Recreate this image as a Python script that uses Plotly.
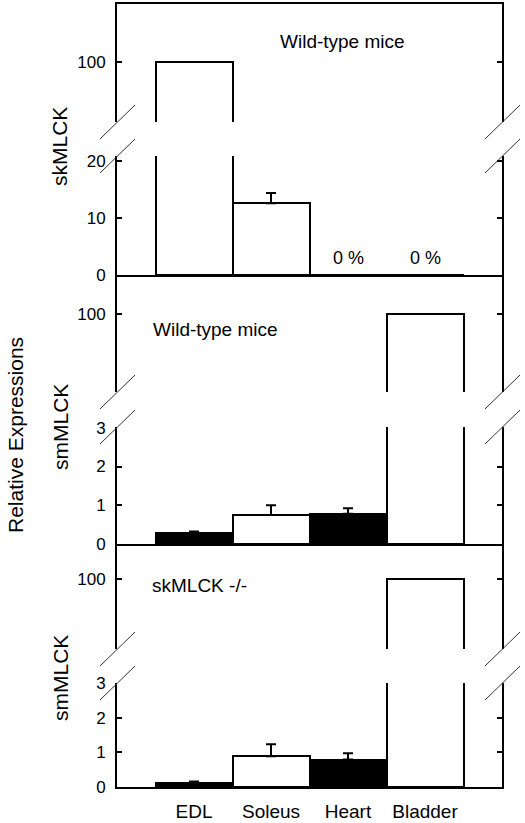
import plotly.graph_objects as go

# ---------------- data ----------------
categories = ["EDL", "Soleus", "Heart", "Bladder"]

sk_wt_values = [100, 12.6, 0, 0]
sk_wt_err = [None, 1.8, None, None]
sk_wt_colors = ["white", "white", "white", "white"]

sm_wt_values = [0.28, 0.75, 0.78, 100]
sm_wt_err = [0.04, 0.25, 0.14, None]

sm_ko_values = [0.12, 0.89, 0.79, 100]
sm_ko_err = [0.04, 0.34, 0.18, None]
sm_colors = ["black", "white", "black", "white"]

panel_titles = ["skMLCK", "smMLCK", "smMLCK"]
panel_notes = ["Wild-type mice", "Wild-type mice", "skMLCK -/-"]
zero_labels = ["0 %", "0 %"]

# ---------------- geometry (pixels) ----------------
W, H = 525, 823
XL, XR = 117, 502
FONT = "Liberation Sans, Arial, sans-serif"


def fx(px):
    return px / W


def fy(py):
    return 1 - py / H


panels = [
    dict(lo=(275, 156), up=(122, 4), lo_rng=[0, 20.88], up_rng=[70, 129],
         lo_ticks=[0, 10, 20], values=sk_wt_values, err=sk_wt_err, colors=sk_wt_colors),
    dict(lo=(544, 427), up=(392, 275), lo_rng=[0, 3.02], up_rng=[61, 119.5],
         lo_ticks=[0, 1, 2, 3], values=sm_wt_values, err=sm_wt_err, colors=sm_colors),
    dict(lo=(787, 683), up=(649, 545), lo_rng=[0, 3.0], up_rng=[65, 117],
         lo_ticks=[0, 1, 2, 3], values=sm_ko_values, err=sm_ko_err, colors=sm_colors),
]

fig = go.Figure()
layout = dict(
    template="none",
    width=W, height=H, margin=dict(l=0, r=0, t=0, b=0, autoexpand=False),
    paper_bgcolor="white", plot_bgcolor="rgba(0,0,0,0)",
    showlegend=False, bargap=0,
    font=dict(family=FONT, color="black"),
)

ycommon = dict(showline=True, linecolor="black", linewidth=2, mirror="ticks",
               ticks="inside", ticklen=5, tickwidth=2, tickcolor="black",
               showgrid=False, zeroline=False, automargin=False,
               tickfont=dict(size=17, family=FONT, color="black"),
               ticklabelstandoff=6, fixedrange=True)

xcommon = dict(type="category", categoryorder="array", categoryarray=categories,
               range=[-1, 4], domain=[fx(XL), fx(XR)], showline=True,
               linecolor="black", linewidth=2, showgrid=False, zeroline=False,
               ticks="", fixedrange=True, automargin=False)

shapes = []
annotations = []

for i, p in enumerate(panels):
    ylo = 2 * i + 1
    yup = 2 * i + 2
    xi = i + 1
    xname = "xaxis" if xi == 1 else f"xaxis{xi}"
    loname = "yaxis" if ylo == 1 else f"yaxis{ylo}"
    upname = f"yaxis{yup}"

    layout[xname] = dict(xcommon, anchor="y" if ylo == 1 else f"y{ylo}",
                         showticklabels=(i == 2),
                         tickfont=dict(size=19, family=FONT, color="black"),
                         ticklabelstandoff=6)
    layout[loname] = dict(ycommon, domain=[fy(p["lo"][0]), fy(p["lo"][1])],
                          range=p["lo_rng"], tickvals=p["lo_ticks"],
                          anchor="x" if xi == 1 else f"x{xi}")
    layout[upname] = dict(ycommon, domain=[fy(p["up"][0]), fy(p["up"][1])],
                          range=p["up_rng"], tickvals=[100],
                          anchor="x" if xi == 1 else f"x{xi}")

    xref = "x" if xi == 1 else f"x{xi}"
    err = p["err"]
    fig.add_trace(go.Bar(
        x=categories, y=p["values"], xaxis=xref,
        yaxis="y" if ylo == 1 else f"y{ylo}",
        marker=dict(color=p["colors"], line=dict(color="black", width=2)),
        error_y=dict(type="data", symmetric=False, array=err,
                     arrayminus=[0 if e is not None else None for e in err],
                     color="black", thickness=2, width=5),
        hoverinfo="skip",
    ))
    up_x = "x4" if i == 0 else xref
    fig.add_trace(go.Bar(
        x=categories, y=p["values"], xaxis=up_x, yaxis=f"y{yup}",
        marker=dict(color=p["colors"], line=dict(color="black", width=2)),
        hoverinfo="skip",
    ))

    # break marks
    for xb in (XL, XR):
        for yb in (p["up"][0], p["lo"][1]):
            shapes.append(dict(type="line", xref="paper", yref="paper",
                               x0=fx(xb - 17), y0=fy(yb + 17),
                               x1=fx(xb + 18), y1=fy(yb - 17),
                               line=dict(color="#333333", width=1)))

    annotations.append(dict(text=panel_titles[i], xref="paper", yref="paper",
                            x=fx(60), y=fy([147, 427, 678][i]),
                            textangle=-90, showarrow=False,
                            font=dict(size=21, family=FONT, color="black"),
                            xanchor="center", yanchor="middle"))

layout["xaxis4"] = dict(xcommon, anchor="y2", side="top", matches="x",
                        showticklabels=False)

annotations.append(dict(text=panel_notes[0], xref="paper", yref="paper",
                        x=fx(407), y=fy(29), showarrow=False,
                        font=dict(size=19, family=FONT, color="black")))
annotations.append(dict(text=panel_notes[1], xref="paper", yref="paper",
                        x=fx(215), y=fy(330), showarrow=False,
                        font=dict(size=19, family=FONT, color="black")))
annotations.append(dict(text=panel_notes[2], xref="paper", yref="paper",
                        x=fx(199), y=fy(598), showarrow=False,
                        font=dict(size=19, family=FONT, color="black")))
for cat, lab in zip(categories[2:], zero_labels):
    annotations.append(dict(text=lab, x=cat, y=3, xref="x", yref="y",
                            showarrow=False, yanchor="middle",
                            font=dict(size=18, family=FONT, color="black")))

annotations.append(dict(text="Relative Expressions", xref="paper", yref="paper",
                        x=fx(15), y=fy(435), textangle=-90, showarrow=False,
                        font=dict(size=21, family=FONT, color="black"),
                        xanchor="center", yanchor="middle"))

layout["shapes"] = shapes
layout["annotations"] = annotations
fig.update_layout(**layout)

fig.write_html("out.html", config={"displayModeBar": False},
               post_script="document.body.style.margin='0';document.body.style.overflow='hidden';")
